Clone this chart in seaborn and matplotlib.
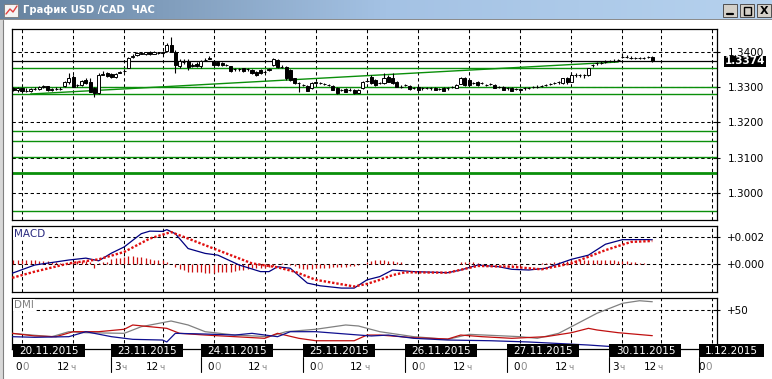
import numpy as np
import matplotlib
matplotlib.use("Agg")
import matplotlib.pyplot as plt
import matplotlib.transforms as mtrans
from matplotlib.patches import Rectangle
from matplotlib.colors import LinearSegmentedColormap
import seaborn as sns

# ------------------------------------------------------------------ data
title_text = "График USD /CAD  ЧАС"
base_price = 1.3300          # prices below are pips relative to this
first_bar = -2               # hourly bar index of the first candle (0 = 20.11 00h)

open_pips = [-3, -6, -3, -9, -10, -5, -5, 0, 3, -6, -4, -5, 4, 14, 30, 6, 7, 21, 16, -3,
             -16, 36, 42, 38, 30, 42, 46, 56, 88, 92, 96, 95, 101, 95, 99, 99, 104, 120, 102, 62,
             73, 76, 62, 68, 60, 77, 82, 74, 73, 70, 64, 60, 52, 52, 54, 52, 50, 44, 49, 45,
             50, 64, 77, 59, 59, 50, 26, 12, 7, 4, -3, 13, 12, 9, 7, 4, -3, -7, -5, -7,
             -7, -15, -3, 18, 30, 21, 12, 12, 30, 26, 16, 2, 7, 4, -1, 2, -3, -1, -3, -1,
             -5, -3, -3, 2, -1, 11, 26, 21, 12, 16, 12, 7, 9, 7, 2, 1, -3, -3, -5, -5,
             -3, -1, 2, 2, 4, 7, 9, 12, 14, 12, 26, 16, 35, 35, 35, 35, 64, 69, 70, 73,
             75, 76, 78, 86, 87, 85, 83, 85, 85, 86, 86]
high_pips = [2, 0, 2, -2, -2, 0, 5, 6, 5, -1, 1, 0, 18, 41, 34, 10, 21, 26, 26, 0,
             40, 48, 45, 42, 42, 48, 52, 88, 95, 100, 100, 102, 104, 103, 102, 104, 126, 144, 106, 80,
             82, 80, 70, 72, 78, 85, 90, 78, 76, 73, 68, 62, 56, 55, 56, 56, 52, 47, 52, 50,
             55, 84, 82, 64, 61, 52, 28, 16, 10, 7, 14, 17, 15, 12, 10, 6, 0, -4, -2, -3,
             -5, -5, 18, 22, 35, 24, 15, 41, 34, 41, 18, 6, 10, 6, 2, 5, 0, 2, 0, 1,
             -2, 0, 0, 5, 9, 30, 30, 24, 15, 18, 15, 10, 12, 9, 5, 3, 0, 0, -2, -2,
             0, 2, 5, 6, 8, 10, 13, 16, 19, 28, 30, 40, 40, 38, 38, 56, 68, 73, 74, 77,
             79, 80, 82, 98, 91, 89, 88, 88, 88, 89, 89]
low_pips = [-10, -12, -14, -14, -13, -8, -8, -3, -9, -9, -8, -7, 2, 10, 0, 2, 4, 10, -14, -26,
            -20, 34, 30, 28, 28, 40, 44, 54, 85, 90, 94, 93, 93, 94, 95, 96, 100, 100, 40, 55,
            68, 50, 58, 58, 56, 74, 80, 62, 62, 62, 60, 44, 48, 48, 44, 48, 38, 32, 38, 40,
            46, 62, 56, 56, 22, 18, 10, -12, 4, -10, -5, 10, 9, 6, 4, -8, -18, -10, -14, -10,
            -18, -17, -5, 15, 10, 5, 9, 10, 14, 10, 0, -2, 4, -6, -4, -8, -6, -4, -6, -8,
            -8, -10, -6, -1, -3, 9, 5, 5, 9, 5, 9, 4, 6, -3, -1, -8, -6, -10, -8, -9,
            -6, -4, -1, -1, 1, 4, 6, 9, 11, 10, 11, 14, 30, 30, 28, 33, 58, 64, 66, 69,
            71, 72, 74, 83, 84, 82, 80, 82, 82, 83, 72]
close_pips = [-6, -3, -10, -10, -4, -5, 0, 3, -6, -4, -5, -4, 16, 26, 2, 7, 18, 12, -12, -16,
              35, 37, 33, 30, 38, 43, 47, 84, 90, 98, 97, 100, 95, 101, 98, 100, 120, 102, 64, 76,
              73, 59, 63, 60, 74, 78, 83, 64, 64, 64, 63, 48, 52, 51, 48, 51, 40, 35, 40, 45,
              51, 80, 59, 59, 26, 21, 12, 12, 7, -9, 12, 14, 12, 9, 7, -6, -17, -7, -12, -7,
              -17, -7, 16, 18, 12, 7, 12, 26, 16, 12, 2, 2, 7, -5, -1, -7, -3, -1, -3, -7,
              -5, -9, -3, 2, 7, 26, 7, 7, 12, 7, 12, 7, 9, -2, 2, -7, -3, -9, -5, -6,
              -3, -1, 2, 2, 4, 7, 9, 12, 14, 26, 14, 35, 35, 35, 35, 54, 64, 69, 70, 73,
              75, 76, 78, 86, 87, 85, 83, 85, 85, 86, 74]

level_prices = [1.33544, 1.33020, 1.32826, 1.31766, 1.31482, 1.31009, 1.29487]
thick_level_price = 1.30553
trend_idx = [2, 140]
trend_price = [1.32812, 1.33724]
last_price = 1.3374
price_ticks = [1.3000, 1.3100, 1.3200, 1.3300, 1.3400]
price_tick_labels = ["1.3000", "1.3100", "1.3200", "1.3300", "1.3400"]

# MACD (units of 1e-4)
macd_idx = [-2.3, 3, 11, 15, 18, 21, 24, 28, 30, 33, 34, 36, 39, 43, 46, 51, 56, 58, 60, 63,
            67, 70, 75, 78, 81, 84, 87, 92, 100, 103, 107, 112, 115, 119, 123, 129, 133, 137,
            141, 147, 148]
macd_val = [-6.6, -0.5, 3.2, 4.6, 2.6, 8.3, 12.9, 22.7, 24.6, 24.4, 25.7, 22.7, 11.7, 8.1, 6.8,
            -0.5, -5.4, -5.4, -1.8, -2.9, -13.9, -15.9, -17.6, -17.6, -11.5, -9.1, -4.2, -5.4,
            -6.2, -4.2, -0.5, -1.8, -3.7, -4.2, -2.9, 3.7, 6.8, 14.9, 18.3, 18.3, 18.2]
signal_idx = [-2.3, 3, 11, 18, 24, 30, 35, 39, 45, 54, 60, 64, 69, 78, 81, 84, 87, 90, 100,
              107, 115, 122, 129, 137, 143, 148]
signal_val = [-10, -5.4, 0.7, 3.7, 9.2, 19.1, 23.9, 19.1, 11.7, 0.7, -2.2, -5.4, -11.5, -16.4,
              -14.5, -11.5, -8, -5.9, -6.2, -1.2, -1.8, -3.7, 0.7, 10.5, 16.6, 17.3]
hist_val = [3.0, 3.2, 3.0, 3.2, 3.0, 3.0, 2.8,
            2.5, 2.2, 2.0, 1.5,
            0.8, 0.5, 0.8,
            2.0, 2.5, 2.5, 2.5, 2.0,
            -2.5,
            1.0, 1.5, 2.0,
            4.0, 4.5, 5.0, 5.5, 6.0, 6.0, 5.5, 5.5, 5.0,
            4.0, 3.5, 3.5, 3.0, 2.0,
            0.5,
            -2, -3.5, -4.5, -5.5, -6, -6, -6, -6.5, -6.5, -6.5, -6, -6, -5.5, -5.5, -5, -4.5, -4, -3.5, -3,
            -3, -3, -2.5, -2, -1, 0.5, 1.0, 0.5, -0.5, -1.5,
            -3, -3.5, -3.5, -3.5, -3, -3, -3, -2.5, -2, -2, -2, -2, -1.5, -1, -0.5, 0.5,
            1.5, 2.5, 3.0, 3.0, 3.0, 2.8, 2.5, 2.0, 1.5,
            0.5, 0.3, 0.2, 0.2, 0.1, 0.1, 0.1, 0.1, 0.2, 0.2, 0.2, 0.3, 0.5,
            1.5, 2.0, 2.0, 1.8, 1.2,
            0.5, 0.3, 0.2, 0.1, 0.1, -0.2, -0.2, -0.3, -0.3, -0.2, -0.1, 0.1, 0.3, 0.5, 0.8, 1.0,
            1.2, 1.5, 1.8, 2.0, 2.5,
            3.0, 3.2, 3.5, 3.5, 3.5, 3.5, 3.5, 3.2, 3.0, 3.0, 3.0, 2.8, 2.5, 2.2, 2.0, 1.5, 1.2,
            0.8, 0.5, 0.3]

# DMI
adx_idx = [-2.3, 7, 11, 15, 24, 28, 35, 39, 43, 50, 58, 62, 69, 76, 79, 84, 92, 100, 105,
           117, 121, 126, 129, 135, 141, 145, 148]
adx_val = [20, 15.8, 22.2, 20.9, 20.1, 28.6, 35.9, 30.8, 22.2, 17.9, 15.8, 22.2, 25.3, 30.8,
           29.5, 22.2, 15.8, 12.4, 18.8, 15.8, 13.7, 20.1, 28.6, 45.8, 58.6, 61.9, 60.6]
pdi_idx = [-2.3, 3, 8, 12, 18, 24, 26, 30, 34, 37, 43, 50, 57, 60, 65, 69, 78, 81, 84, 92,
           100, 103, 108, 115, 123, 129, 133, 135, 140, 148]
pdi_val = [20.1, 16.7, 15.8, 22.2, 22.2, 25.3, 30.8, 28.6, 26.5, 20.1, 17.9, 15.8, 13.7, 20.1,
           13.7, 10.6, 10.6, 17.9, 17.9, 14.5, 12.8, 17.9, 15.8, 13.7, 15.8, 20.9, 26.5, 24.4,
           20.9, 17.1]
mdi_idx = [-2.3, 3, 11, 15, 21, 26, 33, 34, 36, 43, 50, 54, 60, 63, 69, 77, 82, 86, 92, 100,
           110, 119, 133, 139, 148]
mdi_val = [15.8, 15, 15.8, 22.2, 15.8, 12.4, 11.5, 9, 20.1, 19.2, 17.9, 20.1, 15.8, 22.2, 22.2,
           18.8, 16.7, 17.9, 13.7, 11.5, 10.6, 9, 5.1, 2.9, 2.6]

# time axis
grid_idx = [0, 12, 24, 33, 45, 57, 69, 81, 93, 105, 117, 129, 141, 150, 162]
hour_num = ["0", "12", "3", "12", "0", "12", "0", "12", "0", "12", "0", "12", "3", "12", "0"]
hour_suffix = ["0", "ч", "ч", "ч", "0", "ч", "0", "ч", "0", "ч", "0", "ч", "ч", "ч", "0"]
date_labels = ["20.11.2015", "23.11.2015", "24.11.2015", "25.11.2015",
               "26.11.2015", "27.11.2015", "30.11.2015", "1.12.2015"]
date_start_idx = [0, 24, 45, 69, 93, 117, 141, 162]

# ------------------------------------------------------------------ figure
sns.set_style("white")
plt.rcParams["font.family"] = ["DejaVu Sans"]
W, H = 772, 379
fig = plt.figure(figsize=(W / 100, H / 100), dpi=100)
fig.patch.set_facecolor("white")


def rect(x0, y0, x1, y1):
    return [x0 / W, 1 - y1 / H, (x1 - x0) / W, (y1 - y0) / H]


def fpx(x, y):
    return x / W, 1 - y / H


XLIM = (-2.35, 163.19)
GRID_KW = dict(color="black", linestyle=(0, (3.2, 2.6)), linewidth=0.75)
FS = 7.5


def style_axes(ax, yticks, ylabels):
    ax.set_xlim(*XLIM)
    ax.set_xticks(grid_idx)
    ax.set_yticks(yticks)
    ax.set_yticklabels(ylabels)
    ax.yaxis.tick_right()
    ax.tick_params(axis="x", length=0, labelbottom=False)
    ax.tick_params(axis="y", direction="inout", length=5, width=0.8, pad=5,
                   labelsize=FS, colors="black", right=True, left=False)
    ax.set_axisbelow(True)
    ax.grid(True, **GRID_KW)
    for s in ax.spines.values():
        s.set_color("black")
        s.set_linewidth(0.9)
    ax.set_facecolor("white")
    ax.set_xlabel("")
    ax.set_ylabel("")


# ---------------- price panel
axp = fig.add_axes(rect(12, 29, 717, 220))
idx = np.arange(first_bar, first_bar + len(close_pips))
o = base_price + np.array(open_pips) / 1e4
h = base_price + np.array(high_pips) / 1e4
l = base_price + np.array(low_pips) / 1e4
c = base_price + np.array(close_pips) / 1e4

green = "#0a8f0a"
for lev in level_prices:
    axp.axhline(lev, color=green, lw=1.0, zorder=2)
axp.axhline(thick_level_price, color=green, lw=2.0, zorder=2)
axp.plot(trend_idx, trend_price, color=green, lw=1.0, zorder=2)
axp.axhline(last_price, color="black", lw=0.9, zorder=2)

axp.vlines(idx, l, h, color="black", lw=0.8, zorder=4)
up = c >= o
axp.bar(idx[up], (c - o)[up], bottom=o[up], width=0.72, color="white",
        edgecolor="black", linewidth=0.7, zorder=5)
axp.bar(idx[~up], (o - c)[~up], bottom=c[~up], width=0.72, color="black",
        edgecolor="black", linewidth=0.7, zorder=5)
axp.set_ylim(1.292222, 1.346638)
style_axes(axp, price_ticks, price_tick_labels)

tr = mtrans.blended_transform_factory(axp.transAxes, axp.transData)
axp.text((725 - 12) / 705, last_price, "1.3374", transform=tr, ha="left", va="center",
         fontsize=FS, fontweight="bold", color="white", zorder=10, clip_on=False,
         bbox=dict(boxstyle="square,pad=0.08", fc="black", ec="none"))

# ---------------- MACD panel
axm = fig.add_axes(rect(12, 226, 717, 292))
axm.vlines(np.arange(first_bar, first_bar + len(hist_val)), 0, hist_val,
           color="#cc1010", lw=0.9, zorder=3)
sns.lineplot(x=macd_idx, y=macd_val, ax=axm, color="#000080", lw=0.9, zorder=4)
sns.lineplot(x=signal_idx, y=signal_val, ax=axm, color="#e01010", lw=1.7,
             linestyle=(0, (1, 0.8)), zorder=5)
axm.set_ylim(-20.5, 28.4)
style_axes(axm, [0, 20], ["+0.000", "+0.002"])
axm.text(-2.35 + 2 / 4.259, 0.88, "MACD",
         transform=mtrans.blended_transform_factory(axm.transData, axm.transAxes),
         ha="left", va="center", fontsize=FS, color="#2a2a80", zorder=10,
         bbox=dict(boxstyle="square,pad=0.1", fc="white", ec="none"))

# ---------------- DMI panel
axd = fig.add_axes(rect(12, 298, 717, 349))
sns.lineplot(x=adx_idx, y=adx_val, ax=axd, color="#808080", lw=0.9, zorder=3)
sns.lineplot(x=pdi_idx, y=pdi_val, ax=axd, color="#c01010", lw=0.9, zorder=4)
sns.lineplot(x=mdi_idx, y=mdi_val, ax=axd, color="#101090", lw=0.9, zorder=4)
axd.set_ylim(0, 65.4)
style_axes(axd, [50], ["+50"])
axd.text(-2.35 + 2 / 4.259, 0.86, "DMI",
         transform=mtrans.blended_transform_factory(axd.transData, axd.transAxes),
         ha="left", va="center", fontsize=FS, color="#808080", zorder=10,
         bbox=dict(boxstyle="square,pad=0.1", fc="white", ec="none"))

fig.canvas.draw()


def idx_to_px(i):
    return axd.transData.transform((i, 0))[0]


# ---------------- time axis: date boxes and hour labels
for lab, si in zip(date_labels, date_start_idx):
    left = max(idx_to_px(si) - 13, 13)
    wbox = 72 if len(lab) == 10 else 65
    x0, y0 = fpx(left, 357)
    fig.add_artist(Rectangle((x0, y0), wbox / W, 13 / H, transform=fig.transFigure,
                             facecolor="black", edgecolor="none", zorder=20))
    fig.text((left + wbox / 2) / W, 1 - 350.5 / H, lab, ha="center", va="center",
             fontsize=FS, color="white", zorder=21)
    if left > 14:
        fig.add_artist(plt.Line2D([left / W, left / W], [1 - 357 / H, 1 - 372 / H],
                                  transform=fig.transFigure, color="black", lw=0.8))

for k, (gi, num, suf) in enumerate(zip(grid_idx, hour_num, hour_suffix)):
    gx = idx_to_px(gi)
    anchor = gx if suf == "0" else gx - 3.5
    if k == len(grid_idx) - 1:
        anchor = gx - 7
    fig.text(anchor / W, 1 - 367.5 / H, num, ha="right", va="center", fontsize=FS, color="black")
    fig.text((anchor + 0.5) / W, 1 - 367.5 / H, suf, ha="left", va="center",
             fontsize=FS - 1 if suf == "ч" else FS, color="#8a8a8a")

# ---------------- window chrome
axt = fig.add_axes(rect(0, 0, W, 19))
grad = np.linspace(0, 1, 256).reshape(1, -1)
cmap = LinearSegmentedColormap.from_list("tb", ["#66829f", "#a4c2e4", "#b6d2ee"])
axt.imshow(grad, aspect="auto", cmap=cmap, extent=(0, 1, 0, 1))
axt.set_axis_off()
fig.text(23 / W, 1 - 10 / H, title_text, ha="left", va="center", fontsize=7.2,
         fontweight="bold", color="white")
# icon
fig.add_artist(Rectangle(fpx(4, 17), 14 / W, 13 / H, transform=fig.transFigure,
                         facecolor="#f4f4f4", edgecolor="#7a7a7a", lw=0.6))
fig.add_artist(plt.Line2D([6 / W, 10 / W, 13 / W, 17 / W], [1 - 14 / H, 1 - 9 / H, 1 - 12 / H, 1 - 6 / H],
                          transform=fig.transFigure, color="#e04040", lw=1.0))
# buttons
for bx in (723, 740, 757):
    fig.add_artist(Rectangle(fpx(bx, 17), 14 / W, 13 / H, transform=fig.transFigure,
                             facecolor="#d4d0c8", edgecolor="#505050", lw=0.7))
fig.add_artist(plt.Line2D([727 / W, 733 / W], [1 - 14 / H, 1 - 14 / H],
                          transform=fig.transFigure, color="black", lw=1.6))
fig.add_artist(Rectangle(fpx(743.5, 14.5), 7 / W, 8 / H, transform=fig.transFigure,
                         facecolor="none", edgecolor="black", lw=1.0))
fig.text(764 / W, 1 - 10.5 / H, "X", ha="center", va="center", fontsize=8,
         fontweight="bold", color="black")
# frame lines
fig.add_artist(Rectangle(fpx(0, 20), W / W, 1.5 / H, transform=fig.transFigure,
                         facecolor="#8c8c8c", edgecolor="none"))
fig.add_artist(Rectangle(fpx(0, H), 3 / W, (H - 20) / H, transform=fig.transFigure,
                         facecolor="#d8d8d8", edgecolor="none"))
fig.add_artist(plt.Line2D([3.5 / W, 3.5 / W], [0, 1 - 20 / H], transform=fig.transFigure,
                          color="#808080", lw=0.8))

fig.savefig("out.png", dpi=100, facecolor="white")
